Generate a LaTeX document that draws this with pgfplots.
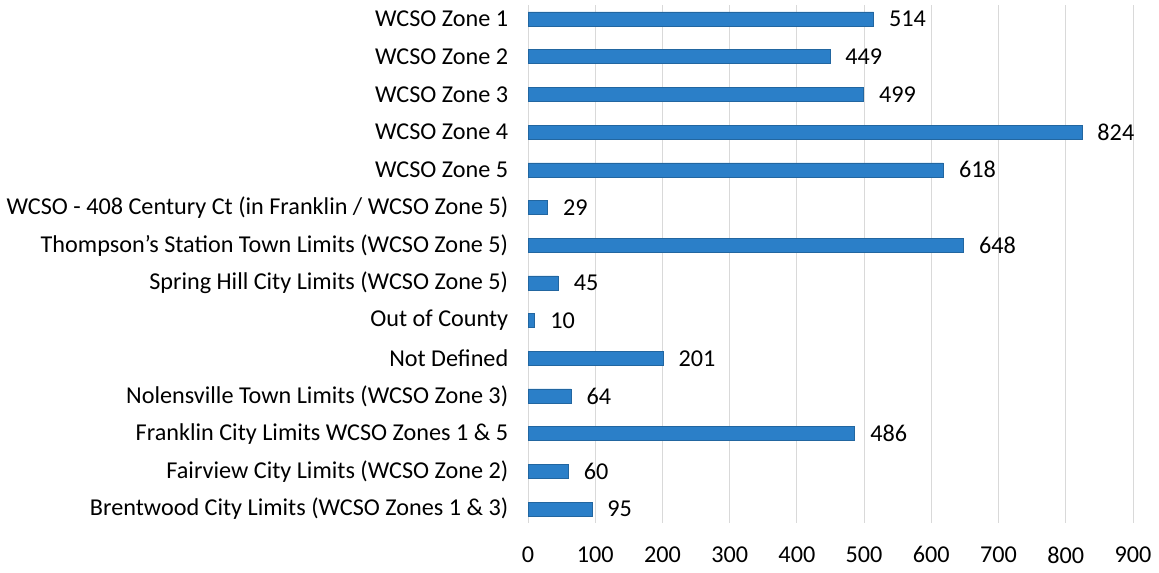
\documentclass[border=0pt]{standalone}
\usepackage{fontspec}
\setmainfont{Carlito}
\usepackage{pgfplots}
\pgfplotsset{compat=1.18}
\definecolor{barblue}{RGB}{43,127,200}
\pgfplotstableread{
idx val
0 514
1 449
2 499
3 824
4 618
5 29
6 648
7 45
8 10
9 201
10 64
11 486
12 60
13 95
}\datatable
\begin{document}
\begin{tikzpicture}
\useasboundingbox (0,0) rectangle (1159bp,573bp);
\begin{axis}[
  at={(528bp,50bp)}, anchor=south west,
  scale only axis, width=605bp, height=518bp,
  xmin=0, xmax=900, ymin=-0.371, ymax=13.371, y dir=reverse,
  xtick={0,100,...,900},
  ytick={0,...,13},
  yticklabels={{WCSO Zone 1},{WCSO Zone 2},{WCSO Zone 3},{WCSO Zone 4},{WCSO Zone 5},{WCSO - 408 Century Ct (in Franklin / WCSO Zone 5)},{Thompson’s Station Town Limits (WCSO Zone 5)},{Spring Hill City Limits (WCSO Zone 5)},{Out of County},{Not Defined},{Nolensville Town Limits (WCSO Zone 3)},{Franklin City Limits WCSO Zones 1 \& 5},{Fairview City Limits (WCSO Zone 2)},{Brentwood City Limits (WCSO Zones 1 \& 3)}},
  axis line style={draw=none},
  major tick style={draw=none},
  xmajorgrids, grid style={draw=black!15, line width=0.8bp},
  /pgf/number format/assume math mode=true,
  tick label style={font=\fontsize{24.2bp}{29bp}\selectfont},
  yticklabel style={xshift=-12bp},
  xticklabel style={yshift=-20bp},
  xbar, bar width=14bp,
  nodes near coords,
  nodes near coords style={font=\fontsize{24.2bp}{29bp}\selectfont, anchor=west, xshift=12bp},
]
\addplot[fill=barblue, draw=barblue!80!black, line width=0.5bp] table[x=val, y=idx] {\datatable};
\end{axis}
\end{tikzpicture}
\end{document}
